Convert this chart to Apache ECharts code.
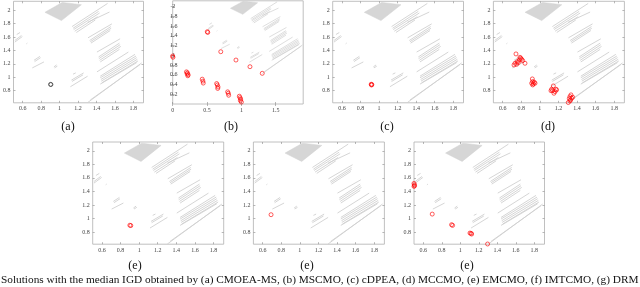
<!DOCTYPE html>
<html><head><meta charset="utf-8">
<script src="https://cdn.jsdelivr.net/npm/echarts@6/dist/echarts.min.js"></script>
<style>html,body{margin:0;padding:0;background:#fff;}#c{width:640px;height:287px;}</style>
</head><body><div id="c"></div>
<script>
// ---- tick labels ----
const xTicksMain = [0.6, 0.8, 1, 1.2, 1.4, 1.6, 1.8];
const yTicksMain = [0.8, 1, 1.2, 1.4, 1.6, 1.8, 2];
const xTicksB = [0, 0.5, 1, 1.5];
const yTicksB = [0.2, 0.4, 0.6, 0.8, 1, 1.2, 1.4, 1.6, 1.8, 2];

// ---- feasible-region pattern (data coords) ----
const regionPoly = [[0.841,1.966],[1.028,2.113],[1.236,2.079],[1.020,1.843]];
const regionSegs = [
  [1.135,1.754,1.520,2.098],[1.146,1.729,1.423,1.980],[1.153,1.710,1.434,1.956],
  [1.164,1.685,1.412,1.902],[1.182,1.666,1.387,1.852],[1.304,1.818,1.541,1.970],
  [1.308,1.587,1.567,1.794],[1.326,1.547,1.556,1.754],[1.333,1.528,1.559,1.729],
  [1.340,1.508,1.549,1.695],
  [1.405,1.375,1.656,1.572],[1.423,1.302,1.649,1.508],[1.426,1.277,1.656,1.484],
  [1.434,1.252,1.664,1.459],[1.441,1.228,1.649,1.415],
  [1.405,1.080,1.746,1.375],[1.441,1.016,1.818,1.341],[1.441,0.992,1.829,1.316],
  [1.448,0.967,1.836,1.292],[1.452,0.942,1.843,1.267],[1.459,0.918,1.850,1.243],
  [1.441,0.898,1.836,1.218],[1.304,0.623,1.890,1.213],[1.333,0.662,1.872,1.188],
  [1.128,0.957,1.261,1.065],[1.135,0.938,1.254,1.036],[1.146,1.046,1.175,1.065],
  [1.117,0.859,1.304,1.016],
  [0.514,1.547,0.586,1.621],[0.514,1.523,0.596,1.606],[0.535,1.636,0.571,1.666],
  [0.640,1.498,0.650,1.508],[0.722,1.252,0.787,1.311],[0.729,1.233,0.794,1.292],
  [0.704,1.139,0.830,1.228],[0.938,1.154,0.967,1.183],[0.945,1.140,0.975,1.165]
];

// ---- solutions ----
const solA = [[0.902,0.894],[0.906,0.892]];
const solB = [[0.504,1.485],[0.51,1.47],[0,0.986],[0.004,0.96],[0.70,1.074],[0.921,0.903],
  [1.125,0.766],[1.304,0.63],[0.20,0.66],[0.215,0.64],[0.21,0.62],[0.225,0.60],[0.22,0.58],
  [0.43,0.51],[0.44,0.47],[0.445,0.43],[0.64,0.42],[0.65,0.39],[0.66,0.35],[0.655,0.32],
  [0.80,0.25],[0.81,0.22],[0.815,0.18],[0.97,0.16],[0.98,0.13],[0.99,0.10],[0.985,0.07],[1.0,0.04]];
const solC = [[0.915,0.896],[0.922,0.890],[0.918,0.885]];
const solD = [[0.743,1.347],[0.722,1.183],[0.733,1.208],[0.758,1.233],[0.779,1.257],[0.794,1.282],
  [0.804,1.267],[0.840,1.208],[0.750,1.193],[0.768,1.218],[0.815,1.248],[0.786,1.297],
  [0.919,0.975],[0.923,0.936],[0.912,0.911],[0.930,0.901],[0.948,0.911],[0.923,0.886],[0.940,0.926],
  [1.145,0.871],[1.127,0.822],[1.138,0.802],[1.163,0.787],[1.173,0.822],[1.152,0.762],[1.120,0.800],[1.180,0.812],
  [1.335,0.738],[1.324,0.713],[1.317,0.683],[1.331,0.663],[1.306,0.624],[1.342,0.688],[1.353,0.703],[1.324,0.648]];
const solE = [[0.900,0.900],[0.910,0.895]];
const solF = [[0.690,1.056]];
const solG = [[0.500,1.518],[0.504,1.498],[0.500,1.474],[0.506,1.484],[0.697,1.065],[0.906,0.908],
  [0.917,0.898],[1.105,0.785],[1.123,0.770],[1.116,0.780],[1.295,0.623]];

const panelLabels = ['(a)','(b)','(c)','(d)','(e)','(e)','(e)'];
const caption = 'Solutions with the median IGD obtained by (a) CMOEA-MS, (b) MSCMO, (c) cDPEA, (d) MCCMO, (e) EMCMO, (f) IMTCMO, (g) DRM';

// ---- layout ----
const main = {xmin:0.5, xmax:1.91, ymin:0.62, ymax:2.13, xt:xTicksMain, yt:yTicksMain};
const panels = [
  Object.assign({left:12.7, top:1.3, width:130.8, height:101.5, sol:solA, col:'#3a3a3a', lab:[68,121]}, main),
  {left:172.7, top:0.8, width:130.5, height:103.2, xmin:0, xmax:1.9, ymin:0, ymax:2.12, xt:xTicksB, yt:yTicksB, sol:solB, col:'#ff0000', lab:[231,121], yInside:true},
  Object.assign({left:332.7, top:1.3, width:130.8, height:101.5, sol:solC, col:'#ff0000', lab:[387,121]}, main),
  Object.assign({left:493.4, top:1.3, width:131, height:101.5, sol:solD, col:'#ff0000', lab:[548,121]}, main),
  Object.assign({left:92.7, top:142, width:131, height:102.2, sol:solE, col:'#ff0000', lab:[135,260]}, main),
  Object.assign({left:253.4, top:142, width:131, height:102.2, sol:solF, col:'#ff0000', lab:[307,260]}, main),
  Object.assign({left:414, top:142, width:130.5, height:102.2, sol:solG, col:'#ff0000', lab:[467,260]}, main)
];

const font = 'Liberation Serif';
const grid = [], xAxis = [], yAxis = [], series = [], graphic = [];
panels.forEach((p, i) => {
  grid.push({left:p.left, top:p.top, width:p.width, height:p.height, show:true,
    borderColor:'#b0b0b0', borderWidth:0.8, backgroundColor:'#fff', containLabel:false});
  const tick = {show:true, inside:true, length:2, lineStyle:{color:'#888', width:0.6}};
  ['bottom','top'].forEach((pos, k) => {
    xAxis.push({type:'value', gridIndex:i, position:pos, min:p.xmin, max:p.xmax,
      axisLine:{show:false}, splitLine:{show:false},
      axisTick:Object.assign({customValues:p.xt}, tick),
      axisLabel:{show:k===0, customValues:p.xt, fontSize:6, color:'#444', fontFamily:font, margin:3}});
  });
  ['left','right'].forEach((pos, k) => {
    yAxis.push({type:'value', gridIndex:i, position:pos, min:p.ymin, max:p.ymax,
      axisLine:{show:false}, splitLine:{show:false},
      axisTick:Object.assign({customValues:p.yt}, tick),
      axisLabel:{show:k===0, customValues:p.yt, fontSize:6, color:'#444', fontFamily:font,
        margin:p.yInside ? -1 : 3, align:p.yInside ? 'center' : 'right'}});
  });
  const xi = 2*i, yi = 2*i;
  series.push({type:'custom', xAxisIndex:xi, yAxisIndex:yi, silent:true, clip:true,
    data:[regionPoly[0]],
    renderItem:(params, api) => ({type:'polygon',
      shape:{points: regionPoly.map(q => api.coord(q))},
      style:{fill:'#d6d6d6', stroke:'#d0d0d0', lineWidth:0.5}})});
  series.push({type:'lines', coordinateSystem:'cartesian2d', xAxisIndex:xi, yAxisIndex:yi,
    silent:true, clip:true,
    data: regionSegs.map(s => ({coords:[[s[0],s[1]],[s[2],s[3]]]})),
    lineStyle:{color:'#d0d0d0', width:i===1?0.7:0.9, opacity:1}});
  series.push({type:'scatter', xAxisIndex:xi, yAxisIndex:yi, data:p.sol, symbol:'circle',
    symbolSize:4, silent:true, clip:false,
    itemStyle:{color:'rgba(0,0,0,0)', borderColor:p.col, borderWidth:0.8}});
  graphic.push({type:'text', x:p.lab[0], y:p.lab[1],
    style:{text:panelLabels[i], font:'12px "Liberation Serif"', fill:'#111', textAlign:'center', textVerticalAlign:'top'}});
});
graphic.push({type:'text', x:1, y:275,
  style:{text:caption, font:'11.3px "Liberation Serif"', fill:'#111', textAlign:'left', textVerticalAlign:'top'}});

const chart = echarts.init(document.getElementById('c'), null, {renderer:'canvas'});
chart.setOption({animation:false, backgroundColor:'#fff', grid, xAxis, yAxis, series, graphic});
</script></body></html>
